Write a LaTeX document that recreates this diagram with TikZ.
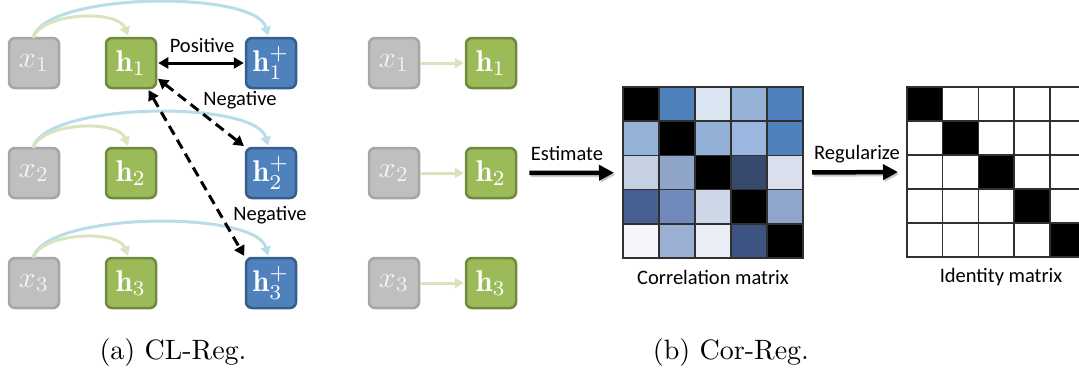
\documentclass[tikz,border=0pt]{standalone}
\usepackage{fontspec}
\newfontfamily\lbl{Carlito}
\usetikzlibrary{arrows.meta,calc}
\definecolor{grayfill}{HTML}{BFBFBF}
\definecolor{graybd}{HTML}{A6A6A6}
\definecolor{xtext}{HTML}{F2F2F2}
\definecolor{greenfill}{HTML}{9BBB59}
\definecolor{greenbd}{HTML}{71893F}
\definecolor{bluefill}{HTML}{4F81BD}
\definecolor{bluebd}{HTML}{385D8A}
\definecolor{lgreen}{HTML}{D7E4BD}
\definecolor{lblue}{HTML}{B7DEE8}
\definecolor{gridc}{HTML}{303030}
\definecolor{m12}{HTML}{4F81BD}
\definecolor{m13}{HTML}{DCE6F2}
\definecolor{m14}{HTML}{95B3D7}
\definecolor{m15}{HTML}{4F81BD}
\definecolor{m21}{HTML}{95B3D7}
\definecolor{m23}{HTML}{93B0D6}
\definecolor{m24}{HTML}{9AB8DF}
\definecolor{m25}{HTML}{4F81BD}
\definecolor{m31}{HTML}{C5D0E3}
\definecolor{m32}{HTML}{8EA5C9}
\definecolor{m34}{HTML}{364A6E}
\definecolor{m35}{HTML}{D9DFEC}
\definecolor{m41}{HTML}{485F94}
\definecolor{m42}{HTML}{7189BB}
\definecolor{m43}{HTML}{CED7E8}
\definecolor{m45}{HTML}{8FA5CC}
\definecolor{m51}{HTML}{F4F6FB}
\definecolor{m52}{HTML}{9AAFD2}
\definecolor{m53}{HTML}{E8EDF6}
\definecolor{m54}{HTML}{3D5381}
\newcommand{\boxlbl}[1]{\scalebox{3}{$#1$}}
\begin{document}
\begin{tikzpicture}[x=1pt,y=-1pt,
  basebox/.style={line width=2.5pt, rounded corners=6pt, minimum size=50pt, inner sep=0pt},
  xbox/.style={basebox, draw=graybd, fill=grayfill, text=xtext},
  hbox/.style={basebox, draw=greenbd, fill=greenfill, text=white},
  pbox/.style={basebox, draw=bluebd, fill=bluefill, text=white},
  lbltext/.style={font=\lbl\fontsize{20.5}{24}\selectfont, inner sep=0pt},
  lgarrow/.style={draw=lgreen, line width=3pt, -{Triangle[length=9pt,width=10pt]}},
  lbarrow/.style={draw=lblue, line width=3pt, -{Triangle[length=9pt,width=10pt]}},
  blkarrow/.style={draw=black, line width=3pt, {Triangle[length=10pt,width=11pt]}-{Triangle[length=10pt,width=11pt]}},
  dasharrow/.style={blkarrow, dash pattern=on 10pt off 6pt},
  bigarrow/.style={line width=4.5pt, -{Triangle[length=15pt,width=15pt]}},
  cell/.style={draw=gridc, line width=1.5pt},
  caption/.style={inner sep=0pt}
]
\useasboundingbox (0,0) rectangle (1079,373);

% ---------- panel (a) ----------
\foreach \i/\y in {1/63,2/173,3/283}{
  \node[xbox] (x\i) at (34,\y) {\boxlbl{x_\i}};
  \node[hbox] (h\i) at (131,\y) {\boxlbl{\mathbf{h}_\i}};
  \node[pbox] (hp\i) at (271,\y) {\boxlbl{\mathbf{h}_\i^+}};
}
\foreach \i in {1,2,3}{
  \draw[lbarrow] ($(x\i.north)+(-1,1)$) .. controls +(12,-46) and +(-12,-46) .. ($(hp\i.north)+(-3,-1)$);
  \draw[lgarrow] ($(x\i.north)+(-1,1)$) .. controls +(10,-26) and +(-10,-26) .. ($(h\i.north)+(-3,-1)$);
}
\draw[blkarrow, shorten <=1pt, shorten >=1pt] (h1) -- (hp1);
\draw[dasharrow, shorten <=1pt, shorten >=1pt] (h1.-30) -- (hp2.north west);
\draw[dasharrow, shorten <=1pt, shorten >=1pt] (h1.-57) -- (hp3.north west);
\node[lbltext] (pos) at (202,45) {Positive};
\node[lbltext] (neg1) at (240,100) {Negative};
\node[lbltext] (neg2) at (270,215) {Negative};

% ---------- panel (b) ----------
\foreach \i/\y in {1/63,2/173,3/283}{
  \node[xbox] (xb\i) at (394,\y) {\boxlbl{x_\i}};
  \node[hbox] (hb\i) at (491,\y) {\boxlbl{\mathbf{h}_\i}};
  \draw[lgarrow, shorten >=1pt] (xb\i) -- (hb\i);
}

% correlation matrix
\node[minimum width=180pt, minimum height=171pt, inner sep=0pt, outer sep=0pt] (cm) at (713,172.5) {};
\foreach \rowlist [count=\r from 0] in {{black,m12,m13,m14,m15},{m21,black,m23,m24,m25},{m31,m32,black,m34,m35},{m41,m42,m43,black,m45},{m51,m52,m53,m54,black}}{
  \foreach \c [count=\k from 0] in \rowlist {
    \filldraw[cell, fill=\c] (623+\k*36, 87+\r*34.2) rectangle ++(36,34.2);
  }
}
\node[lbltext] (cmcap) at (713,277) {Correlation matrix};

% identity matrix
\node[minimum width=178.5pt, minimum height=170pt, inner sep=0pt, outer sep=0pt] (im) at (996.25,172) {};
\begin{scope}
  \clip (900,80) rectangle (1079,265);
  \foreach \r in {0,...,4}{
    \foreach \k in {0,...,4}{
      \ifnum\r=\k
        \filldraw[cell, fill=black] (907+\k*35.7, 87+\r*34) rectangle ++(35.7,34);
      \else
        \filldraw[cell, fill=white] (907+\k*35.7, 87+\r*34) rectangle ++(35.7,34);
      \fi
    }
  }
\end{scope}
\node[lbltext] (imcap) at (1001,277) {Identity matrix};

% big arrows
\draw[bigarrow, draw=black!35, opacity=0.6, shorten <=12pt, shorten >=9pt, transform canvas={shift={(1.5pt,-2pt)}}] (hb2) -- (cm);
\draw[bigarrow, shorten <=12pt, shorten >=9pt] (hb2) -- (cm);
\node[lbltext] (est) at (567,153) {Estimate};
\draw[bigarrow, draw=black!35, opacity=0.6, shorten <=9pt, shorten >=9pt, transform canvas={shift={(1.5pt,-2pt)}}] (cm.east) -- (im.west);
\draw[bigarrow, shorten <=9pt, shorten >=9pt] (cm.east) -- (im.west);
\node[lbltext] (reg) at (857,154) {Regularize};

% captions
\node[caption] (capa) at (173,352) {\scalebox{2.8}{(a) CL-Reg.}};
\node[caption] (capb) at (731,352) {\scalebox{2.8}{(b) Cor-Reg.}};
\end{tikzpicture}
\end{document}
